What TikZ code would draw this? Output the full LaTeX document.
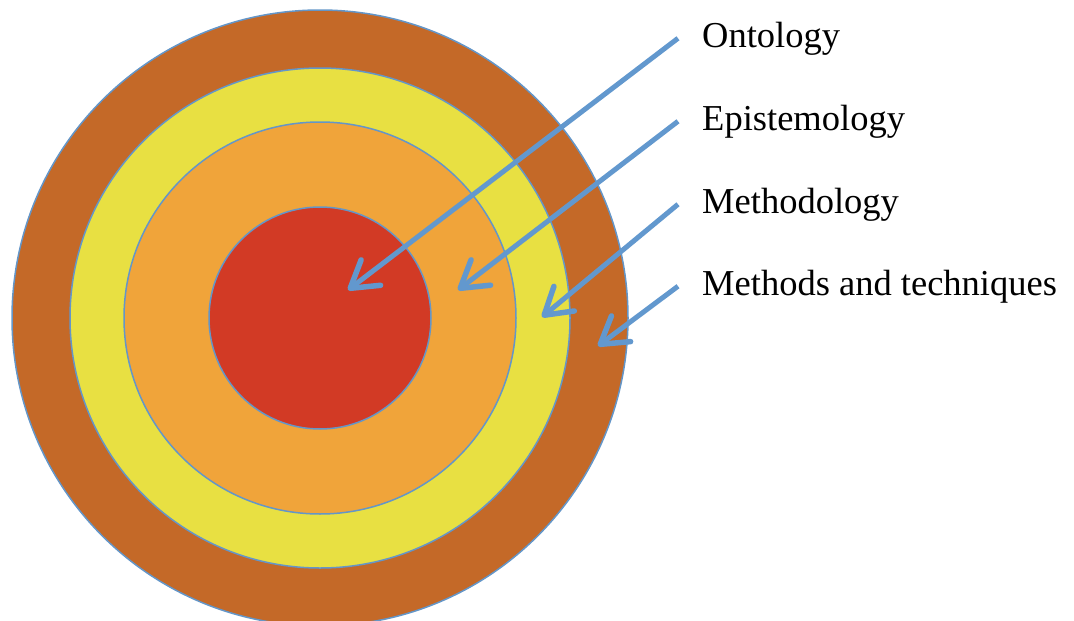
\documentclass[tikz,border=0pt]{standalone}
\usepackage{fontspec}
\setmainfont{Liberation Serif}
\usetikzlibrary{arrows.meta}

\definecolor{ringbrown}{RGB}{196,105,40}
\definecolor{ringyellow}{RGB}{232,224,66}
\definecolor{ringorange}{RGB}{240,164,58}
\definecolor{ringred}{RGB}{210,58,37}
\definecolor{edgeblue}{RGB}{100,150,200}
\definecolor{arrowblue}{RGB}{98,152,206}

\tikzset{
  ring/.style={draw=edgeblue, line width=1.5pt},
  layer/.style={anchor=base west, inner sep=0pt, font=\fontsize{36.5}{40}\selectfont},
  pointer/.style={draw=arrowblue, line width=5pt,
    -{Straight Barb[length=26pt, width=32pt, line width=5.5pt, round]}}
}

\begin{document}
\begin{tikzpicture}[x=1pt,y=-1pt]
\useasboundingbox (0,0) rectangle (1074,621);

\begin{scope}
\clip (0,0) rectangle (1074,621);
\fill[ringbrown, ring] (320,318) circle[radius=308];
\fill[ringyellow, ring] (320,318) circle[radius=250];
\fill[ringorange, ring] (320,318) circle[radius=196];
\fill[ringred, ring] (320,318) circle[radius=111];
\end{scope}

\node[layer] (ont) at (702,47) {Ontology};
\node[layer] (epi) at (702,130) {Epistemology};
\node[layer] (meth) at (702,213) {Methodology};
\node[layer] (tech) at (702,295) {Methods and techniques};

\coordinate (ontTip) at (348,290);
\coordinate (epiTip) at (458,290);
\coordinate (methTip) at (542,317);
\coordinate (techTip) at (598,346);

\draw[pointer] ([xshift=-24pt]ont.west) -- (ontTip);
\draw[pointer] ([xshift=-24pt]epi.west) -- (epiTip);
\draw[pointer] ([xshift=-24pt]meth.west) -- (methTip);
\draw[pointer] ([xshift=-24pt]tech.west) -- (techTip);

\end{tikzpicture}
\end{document}
